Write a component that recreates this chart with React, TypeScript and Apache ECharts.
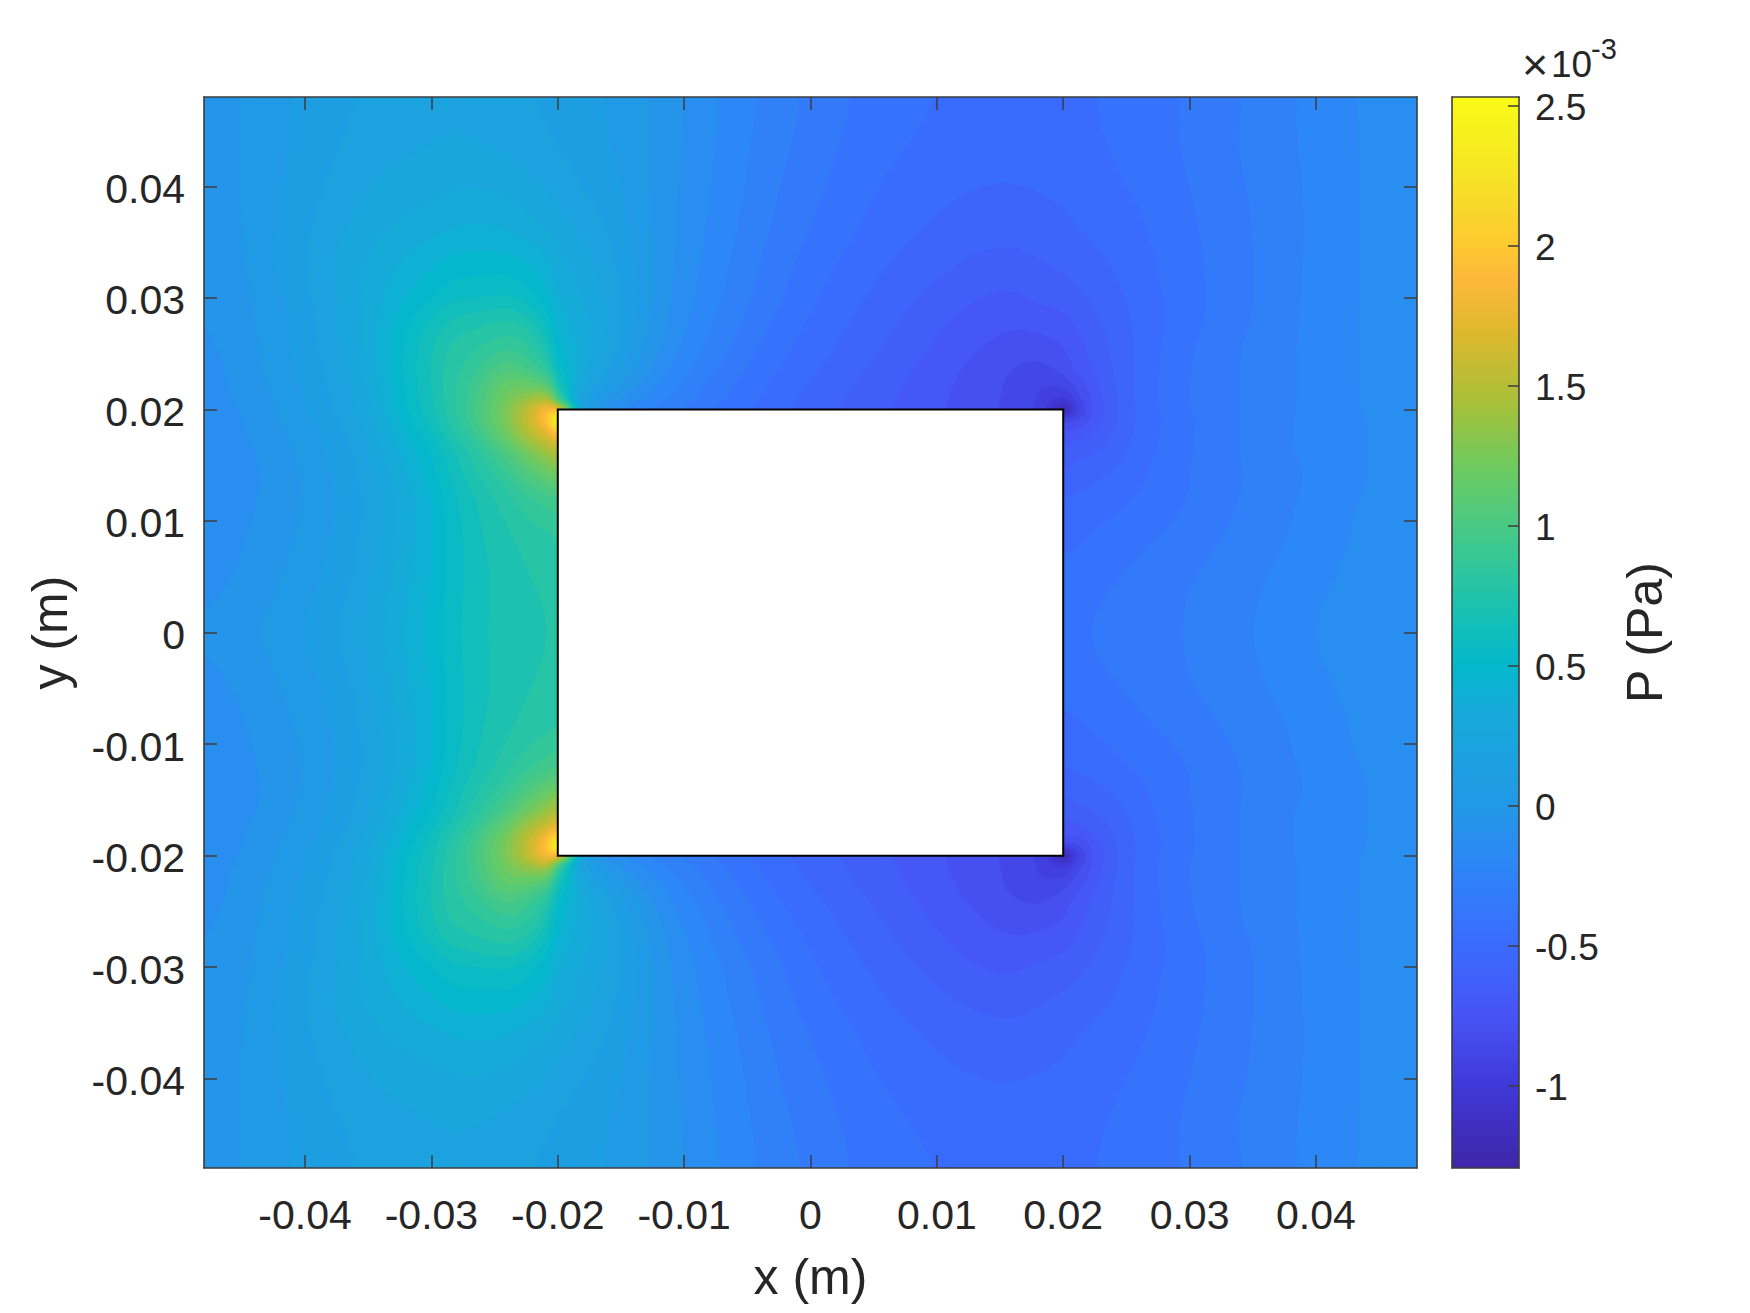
import React, { useEffect, useRef } from "react";
import * as echarts from "echarts";

// Field sample positions in mm. Rows are the upper half; the lower half mirrors it.
const xMm = [-48,-44,-40,-36,-33,-30,-28,-26,-24,-22.5,-21,-20,-18,-15,-12,-9,-6,-3,0,3,6,9,12,15,17,18.5,20,21,22.5,25,28,31,34,37,40,44,48];
const yMm = [48,44,40,36,33,30,28,26,24,22.5,21,20,19,17.5,16,14,12,9,6,3,0];
const N = null;
const hole = [N,N,N,N,N,N,N,N,N,N,N,N,N,N];

// Pressure in units of 1e-3 Pa
const row48 = [-.06,.02,.09,.15,.18,.2,.2,.19,.17,.15,.13,.12, .1,.05,-.02,-.1,-.18,-.25,-.31,-.37,-.41,-.44,-.46,-.47,-.47,-.47, -.46,-.46,-.45,-.43,-.39,-.36,-.31,-.25,-.2,-.14,-.08];
const row44 = [-.07,.03,.1,.17,.2,.22,.23,.22,.2,.18,.16,.14, .11,.06,-.02,-.11,-.19,-.27,-.33,-.39,-.43,-.46,-.48,-.49,-.485,-.48, -.475,-.47,-.46,-.43,-.39,-.345,-.29,-.25,-.2,-.14,-.08];
const row40 = [-.08,.03,.11,.21,.25,.27,.29,.29,.27,.25,.22,.2, .15,.08,-.03,-.12,-.2,-.29,-.35,-.41,-.46,-.49,-.52,-.53,-.525,-.52, -.51,-.5,-.48,-.45,-.41,-.36,-.31,-.26,-.21,-.14,-.08];
const row36 = [-.09,.03,.13,.26,.31,.36,.39,.4,.38,.34,.3,.26, .22,.11,-.03,-.13,-.22,-.31,-.38,-.44,-.49,-.53,-.56,-.58,-.57,-.555, -.54,-.53,-.51,-.485,-.425,-.37,-.32,-.26,-.21,-.14,-.08];
const row33 = [-.1,.02,.16,.3,.36,.45,.48,.49,.49,.46,.42,.33, .27,.14,-.03,-.14,-.24,-.33,-.41,-.47,-.52,-.57,-.6,-.635,-.62,-.6, -.585,-.57,-.55,-.5,-.435,-.38,-.32,-.26,-.21,-.14,-.09];
const row30 = [-.11,0,.12,.28,.41,.53,.6,.6,.62,.56,.48,.38, .31,.15,-.04,-.16,-.26,-.35,-.44,-.5,-.56,-.61,-.66,-.7,-.68,-.66, -.64,-.625,-.585,-.525,-.445,-.38,-.32,-.26,-.2,-.14,-.09];
const row28 = [-.11,0,.12,.27,.45,.62,.7,.72,.77,.72,.58,.42, .34,.15,-.05,-.18,-.28,-.38,-.46,-.52,-.58,-.64,-.69,-.735,-.725,-.71, -.7,-.665,-.62,-.54,-.455,-.38,-.32,-.26,-.2,-.14,-.09];
const row26 = [-.12,-.01,.11,.27,.46,.69,.78,.8,.87,.82,.7,.45, .35,.14,-.07,-.2,-.31,-.41,-.48,-.54,-.6,-.66,-.72,-.765,-.785,-.765, -.745,-.71,-.64,-.545,-.435,-.36,-.3,-.25,-.2,-.14,-.09];
const row24 = [-.13,-.02,.1,.25,.47,.7,.81,.88,1.05,.94,.84,.54, .33,.1,-.12,-.24,-.34,-.44,-.5,-.57,-.63,-.69,-.75,-.8,-.84,-.84, -.77,-.73,-.665,-.55,-.435,-.355,-.3,-.25,-.2,-.14,-.09];
const row22 = [-.13,-.03,.09,.24,.46,.7,.83,.96,1.19,1.09,1.06,.68, .28,.02,-.15,-.27,-.37,-.46,-.53,-.59,-.65,-.7,-.76,-.82,-.87,-.9, -.86,-.79,-.7,-.55,-.425,-.35,-.3,-.25,-.2,-.14,-.09];
const row21 = [-.14,-.04,.08,.22,.45,.68,.83,1,1.28,1.35,1.5,1, .08,-.08,-.2,-.31,-.4,-.48,-.55,-.6,-.66,-.72,-.77,-.83,-.875,-.92, -.99,-.87,-.72,-.55,-.425,-.35,-.3,-.25,-.2,-.14,-.1];
const row20 = [-.14,-.05,.07,.21,.44,.67,.82,1.03,1.3,1.5,1.85,1.9, 0,-.18,-.27,-.35,-.43,-.5,-.56,-.62,-.67,-.72,-.77,-.83,-.88,-.93, -1.25,-.95,-.74,-.55,-.43,-.355,-.3,-.25,-.2,-.14,-.1];
const row19 = [-.15,-.06,.06,.2,.42,.66,.82,1.03,1.3,1.55,1.95,2.5, ...hole, -.85,-.83,-.72,-.55,-.44,-.36,-.3,-.24,-.2,-.15,-.1];
const row17 = [-.15,-.07,.03,.17,.37,.58,.75,.92,1.22,1.42,1.6,1.8, ...hole, -.7,-.69,-.65,-.54,-.43,-.36,-.3,-.24,-.2,-.15,-.1];
const row16 = [-.16,-.08,.02,.15,.35,.53,.68,.82,1.02,1.2,1.38,1.5, ...hole, -.65,-.63,-.61,-.53,-.42,-.36,-.3,-.24,-.2,-.15,-.1];
const row14 = [-.16,-.09,0,.14,.3,.5,.64,.76,.88,1,1.12,1.2, ...hole, -.58,-.56,-.54,-.49,-.41,-.36,-.3,-.27,-.21,-.15,-.1];
const row12 = [-.15,-.08,0,.13,.27,.46,.6,.7,.8,.88,.94,.98, ...hole, -.53,-.52,-.5,-.46,-.42,-.35,-.3,-.25,-.2,-.14,-.1];
const row9 = [-.14,-.07,.01,.13,.28,.45,.58,.68,.74,.78,.81,.83, ...hole, -.48,-.47,-.45,-.41,-.37,-.33,-.28,-.24,-.19,-.13,-.09];
const row6 = [-.13,-.05,.03,.15,.3,.46,.57,.66,.72,.75,.77,.79, ...hole, -.44,-.43,-.41,-.38,-.34,-.3,-.26,-.22,-.18,-.12,-.08];
const row3 = [-.11,-.03,.05,.17,.32,.47,.58,.66,.71,.74,.75,.77, ...hole, -.41,-.4,-.38,-.355,-.32,-.28,-.25,-.2,-.16,-.11,-.08];
const row0 = [-.09,0,.08,.2,.35,.48,.6,.67,.71,.73,.75,.76, ...hole, -.4,-.39,-.37,-.35,-.32,-.28,-.24,-.19,-.15,-.1,-.07];
const upperRows = [row48,row44,row40,row36,row33,row30,row28,row26,row24,row22,row21,row20,row19,row17,row16,row14,row12,row9,row6,row3,row0];

const bodyCorners = [[-0.02, -0.02, 0.02, 0.02]];
const tickValues = [-0.04,-0.03,-0.02,-0.01,0,0.01,0.02,0.03,0.04];
const colorbarTicks = [-1,-0.5,0,0.5,1,1.5,2,2.5];
const colorbarMin = -1.292;
const colorbarMax = 2.531;

// Colormap
const cmapValues = [-1.292,-1,-0.746,-0.5,-0.2,0,0.346,0.5,0.65,0.892,1.2,1.44,1.7,1.88,2,2.25,2.531];
const cmapHex = ["#3e26a8","#4038d8","#4754f5","#3a6bfe","#2d87f7","#2298e6","#16aad9","#03b8cc","#12bfb9","#37c896","#6bcb62","#a8c039","#e0b82e","#fdb83b","#fdc930","#f6e426","#f9fb15"];

// Contour levels painted by the field series, lowest first
const levelStep = 0.075;
const contourLevels = Array.from({ length: 54 }, (_, k) => -1.35 + k * levelStep);
const subdivisions = 3;
const smoothingPasses = 5;

const TEXT = "#262626";
const LINE = "#3c3c3c";
const FONT = "'Liberation Sans', Arial, sans-serif";

function hexRgb(h: string) {
  return [parseInt(h.slice(1, 3), 16), parseInt(h.slice(3, 5), 16), parseInt(h.slice(5, 7), 16)];
}
function colorOf(v: number) {
  if (v <= cmapValues[0]) return cmapHex[0];
  for (let i = 1; i < cmapValues.length; i++) {
    if (v <= cmapValues[i]) {
      const t = (v - cmapValues[i - 1]) / (cmapValues[i] - cmapValues[i - 1]);
      const a = hexRgb(cmapHex[i - 1]);
      const b = hexRgb(cmapHex[i]);
      return `rgb(${a.map((c, k) => Math.round(c + (b[k] - c) * t)).join(",")})`;
    }
  }
  return cmapHex[cmapHex.length - 1];
}

// Shape-preserving curve through a run of samples, used only to draw smooth contour lines
function pchipSlopes(xs: number[], vs: number[]) {
  const n = xs.length;
  const d: number[] = [];
  for (let i = 0; i + 1 < n; i++) d.push((vs[i + 1] - vs[i]) / (xs[i + 1] - xs[i]));
  const m = new Array(n).fill(0);
  if (n === 1) return m;
  m[0] = d[0];
  m[n - 1] = d[n - 2];
  for (let i = 1; i < n - 1; i++) {
    if (d[i - 1] * d[i] <= 0) m[i] = 0;
    else {
      const h0 = xs[i] - xs[i - 1], h1 = xs[i + 1] - xs[i];
      const w0 = 2 * h1 + h0, w1 = h1 + 2 * h0;
      m[i] = (w0 + w1) / (w0 / d[i - 1] + w1 / d[i]);
    }
  }
  return m;
}
// Resample a line that may have null gaps at the fine positions
function resampleLine(xs: number[], vs: (number | null)[], n: number): (number | null)[] {
  const out: (number | null)[] = [];
  let i = 0;
  const slopes: number[] = new Array(xs.length).fill(0);
  while (i < xs.length) {
    if (vs[i] === null) { i++; continue; }
    let j = i;
    while (j + 1 < xs.length && vs[j + 1] !== null) j++;
    const m = pchipSlopes(xs.slice(i, j + 1), vs.slice(i, j + 1) as number[]);
    for (let k = i; k <= j; k++) slopes[k] = m[k - i];
    i = j + 1;
  }
  for (let c = 0; c + 1 < xs.length; c++) {
    const a = vs[c], b = vs[c + 1];
    for (let s = 0; s < n; s++) {
      if (a === null && s === 0) { out.push(null); continue; }
      if (a === null || b === null) { out.push(s === 0 ? a : null); continue; }
      const t = s / n, h = xs[c + 1] - xs[c];
      const t2 = t * t, t3 = t2 * t;
      out.push((2 * t3 - 3 * t2 + 1) * a + (t3 - 2 * t2 + t) * h * slopes[c] + (-2 * t3 + 3 * t2) * b + (t3 - t2) * h * slopes[c + 1]);
    }
  }
  out.push(vs[xs.length - 1]);
  return out;
}
function finePositions(xs: number[], n: number) {
  const out: number[] = [];
  for (let c = 0; c + 1 < xs.length; c++) for (let s = 0; s < n; s++) out.push(xs[c] + ((xs[c + 1] - xs[c]) * s) / n);
  out.push(xs[xs.length - 1]);
  return out;
}
// Light display smoothing of the contour surface; it leaves the sharp corners of the body alone
function smoothSurface(grid: (number | null)[][], fineX: number[], fineY: number[]) {
  let cur = grid;
  for (let pass = 0; pass < smoothingPasses; pass++) {
    cur = cur.map((row, r) =>
      row.map((v, c) => {
        if (v === null) return null;
        let sum = 0, wt = 0;
        for (let dr = -1; dr <= 1; dr++) {
          for (let dc = -1; dc <= 1; dc++) {
            const q = cur[r + dr]?.[c + dc];
            if (q === null || q === undefined) continue;
            const w = (dr === 0 ? 2 : 1) * (dc === 0 ? 2 : 1);
            sum += q * w;
            wt += w;
          }
        }
        const dist = Math.hypot(Math.abs(fineX[c]) - 20, Math.abs(fineY[r]) - 19.5);
        const keep = Math.min(1, dist / 4);
        return v + (sum / wt - v) * keep;
      }),
    );
  }
  return cur;
}
function buildLattice() {
  const rows = [...upperRows, ...upperRows.slice(0, -1).reverse()] as (number | null)[][];
  const ys = [...yMm, ...yMm.slice(0, -1).reverse().map((y) => -y)];
  const yAsc = ys.map((y) => -y); // increasing coordinate for the vertical pass
  const n = subdivisions;
  const fineX = finePositions(xMm, n);
  const fineY = finePositions(yAsc, n).map((y) => -y);
  const horiz = rows.map((r) => resampleLine(xMm, r, n));
  const grid: (number | null)[][] = fineY.map(() => new Array(fineX.length).fill(null));
  for (let c = 0; c < fineX.length; c++) {
    const col = resampleLine(yAsc, horiz.map((r) => r[c]), n);
    for (let r = 0; r < fineY.length; r++) grid[r][c] = col[r];
  }
  return { fineX, fineY, grid: smoothSurface(grid, fineX, fineY) };
}

type P = [number, number, number];
function clipAt(poly: P[], lvl: number, sign: number): P[] {
  const out: P[] = [];
  for (let i = 0; i < poly.length; i++) {
    const a = poly[i];
    const b = poly[(i + 1) % poly.length];
    const ia = (a[2] - lvl) * sign >= 0;
    const ib = (b[2] - lvl) * sign >= 0;
    if (ia) out.push(a);
    if (ia !== ib) {
      const t = (lvl - a[2]) / (b[2] - a[2]);
      out.push([a[0] + (b[0] - a[0]) * t, a[1] + (b[1] - a[1]) * t, lvl]);
    }
  }
  return out;
}

const tickFmt = (v: number) => (Math.abs(v) < 1e-9 ? "0" : Number(v).toFixed(2));
const lowered = (s: string) => `{a|${s}}`;
const boxLine = { show: true, onZero: false, lineStyle: { color: LINE, width: 1.6 } };
const boxTick = { show: true, inside: true, length: 13, customValues: tickValues, lineStyle: { color: LINE, width: 1.5 } };

export default function App() {
  const ref = useRef<HTMLDivElement>(null);
  useEffect(() => {
    document.body.style.margin = "0";
    const chart = echarts.init(ref.current!, undefined, { renderer: "svg" });
    const range = { type: "value" as const, min: -0.048, max: 0.048, splitLine: { show: false }, z: 10 };
    const label = { show: true, customValues: tickValues, formatter: tickFmt, color: TEXT, fontFamily: FONT, fontSize: 41 };
    const { fineX, fineY, grid } = buildLattice();
    chart.setOption({
      animation: false,
      backgroundColor: "#ffffff",
      grid: [
        { left: 204, top: 97, width: 1213, height: 1071, containLabel: false },
        { left: 1452, top: 97, width: 67, height: 1071, containLabel: false },
      ],
      xAxis: [
        { ...range, gridIndex: 0, position: "bottom", axisLine: boxLine, axisTick: boxTick, axisLabel: { ...label, margin: 26 },
          name: "x (m)", nameLocation: "middle", nameGap: 84, nameTextStyle: { color: TEXT, fontFamily: FONT, fontSize: 50 } },
        { ...range, gridIndex: 0, position: "top", axisLine: boxLine, axisTick: boxTick, axisLabel: { show: false } },
        { type: "value", gridIndex: 1, min: 0, max: 1, position: "bottom", splitLine: { show: false }, axisLine: boxLine, axisTick: { show: false }, axisLabel: { show: false }, z: 10 },
        { type: "value", gridIndex: 1, min: 0, max: 1, position: "top", splitLine: { show: false }, axisLine: boxLine, axisTick: { show: false }, axisLabel: { show: false }, z: 10 },
      ],
      yAxis: [
        { ...range, gridIndex: 0, position: "left", axisLine: boxLine, axisTick: boxTick,
          axisLabel: { ...label, margin: 19, formatter: (v: number) => lowered(tickFmt(v)), rich: { a: { color: TEXT, fontFamily: FONT, fontSize: 41, padding: [5, 0, 0, 0] } } },
          name: "y (m)", nameLocation: "middle", nameGap: 129, nameRotate: 90, nameTextStyle: { color: TEXT, fontFamily: FONT, fontSize: 50 } },
        { ...range, gridIndex: 0, position: "right", axisLine: boxLine, axisTick: boxTick, axisLabel: { show: false } },
        { type: "value", gridIndex: 1, min: colorbarMin, max: colorbarMax, position: "right", splitLine: { show: false }, z: 10,
          axisLine: boxLine,
          axisTick: { show: true, inside: true, length: 11, customValues: colorbarTicks, lineStyle: { color: LINE, width: 1.5 } },
          axisLabel: { show: true, customValues: colorbarTicks, formatter: (v: number) => lowered(String(v)), color: TEXT, fontFamily: FONT, fontSize: 37, margin: 16,
            rich: { a: { color: TEXT, fontFamily: FONT, fontSize: 37, padding: [3, 0, 0, 0] } } },
          name: "P (Pa)", nameLocation: "middle", nameGap: 101, nameRotate: 90, nameTextStyle: { color: TEXT, fontFamily: FONT, fontSize: 50 } },
        { type: "value", gridIndex: 1, min: colorbarMin, max: colorbarMax, position: "left", splitLine: { show: false }, axisLine: boxLine, axisTick: { show: false }, axisLabel: { show: false }, z: 10 },
      ],
      graphic: [
        { type: "text", left: 1522, top: 42, style: { text: "×", fill: TEXT, font: `45px ${FONT}` } },
        { type: "text", left: 1551, top: 46, style: { text: "10", fill: TEXT, font: `37px ${FONT}` } },
        { type: "text", left: 1591, top: 34, style: { text: "-3", fill: TEXT, font: `29px ${FONT}` } },
      ],
      series: [
        {
          type: "custom", xAxisIndex: 0, yAxisIndex: 0, clip: true, silent: true, z: 2,
          data: contourLevels.map((l) => [l]),
          encode: { x: [], y: [] },
          renderItem: (_p: any, api: any) => {
            const a = api.value(0) as number;
            const b = a + levelStep;
            const top = b + levelStep; // overlaps the next band, which paints over it, so no seams show
            const xPx = fineX.map((x) => api.coord([x / 1000, 0])[0]);
            const yPx = fineY.map((y) => api.coord([0, y / 1000])[1]);
            const parts: string[] = [];
            const emit = (tri: P[]) => {
              const lo = Math.min(tri[0][2], tri[1][2], tri[2][2]);
              const hi = Math.max(tri[0][2], tri[1][2], tri[2][2]);
              if (hi < a || lo > top) return;
              let poly = tri;
              if (lo < a) poly = clipAt(poly, a, 1);
              if (poly.length >= 3 && hi > top) poly = clipAt(poly, top, -1);
              if (poly.length < 3) return;
              parts.push("M" + poly.map((p) => `${p[0].toFixed(1)} ${p[1].toFixed(1)}`).join("L") + "Z");
            };
            for (let r = 0; r + 1 < fineY.length; r++) {
              for (let c = 0; c + 1 < fineX.length; c++) {
                const v00 = grid[r][c], v01 = grid[r][c + 1], v10 = grid[r + 1][c], v11 = grid[r + 1][c + 1];
                if (v00 === null || v01 === null || v10 === null || v11 === null) continue;
                const A: P = [xPx[c], yPx[r], v00], B: P = [xPx[c + 1], yPx[r], v01];
                const C: P = [xPx[c], yPx[r + 1], v10], D: P = [xPx[c + 1], yPx[r + 1], v11];
                emit([A, B, D]);
                emit([A, D, C]);
              }
            }
            if (!parts.length) return null;
            return { type: "path", shape: { pathData: parts.join("") }, style: { fill: colorOf(a + levelStep / 2) } };
          },
        },
        {
          type: "custom", xAxisIndex: 0, yAxisIndex: 0, silent: true, z: 5,
          data: bodyCorners,
          encode: { x: [0, 2], y: [1, 3] },
          renderItem: (_p: any, api: any) => {
            const a = api.coord([api.value(0), api.value(3)]);
            const b = api.coord([api.value(2), api.value(1)]);
            return { type: "rect", shape: { x: a[0], y: a[1], width: b[0] - a[0], height: b[1] - a[1] }, style: { fill: "#ffffff", stroke: "#000000", lineWidth: 2 } };
          },
        },
        {
          type: "custom", xAxisIndex: 2, yAxisIndex: 2, silent: true, z: 2,
          data: [[0, colorbarMin, 1, colorbarMax]],
          encode: { x: [0, 2], y: [1, 3] },
          renderItem: (_p: any, api: any) => {
            const a = api.coord([api.value(0), api.value(3)]);
            const b = api.coord([api.value(2), api.value(1)]);
            const span = colorbarMax - colorbarMin;
            const stops = cmapValues.map((v, i) => ({ offset: (colorbarMax - v) / span, color: cmapHex[i] })).reverse();
            return { type: "rect", shape: { x: a[0], y: a[1], width: b[0] - a[0], height: b[1] - a[1] },
              style: { fill: new echarts.graphic.LinearGradient(0, 0, 0, 1, stops) } };
          },
        },
      ],
    });
    return () => chart.dispose();
  }, []);
  return <div ref={ref} style={{ width: 1750, height: 1313 }} />;
}
